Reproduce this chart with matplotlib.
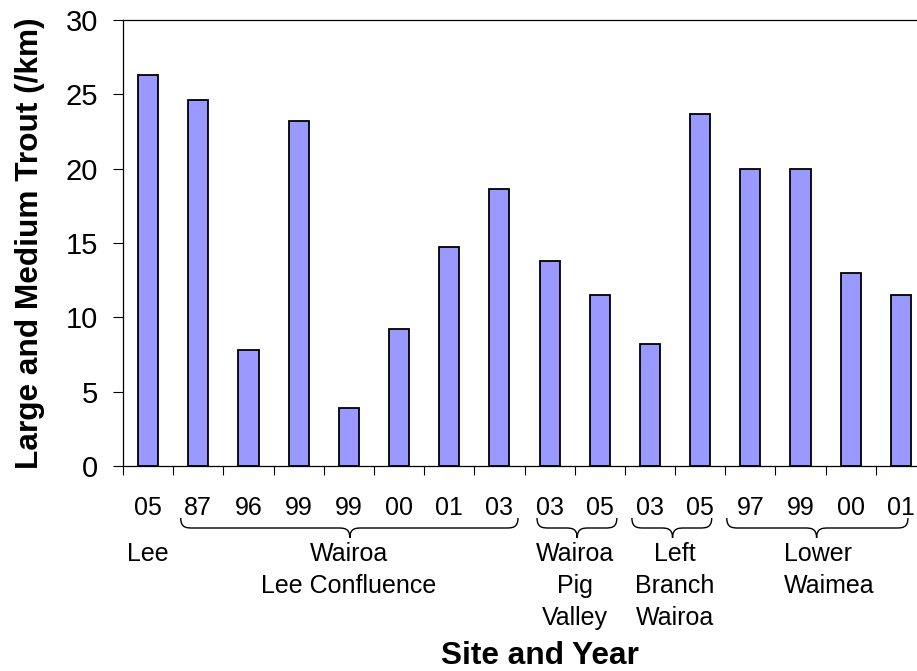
import numpy as np
import matplotlib
matplotlib.use('Agg')
import matplotlib.pyplot as plt
from matplotlib.path import Path
from matplotlib.patches import PathPatch
import matplotlib.transforms as mtransforms

plt.rcParams['font.family'] = ['Liberation Sans', 'DejaVu Sans']

years = ['05', '87', '96', '99', '99', '00', '01', '03',
         '03', '05', '03', '05', '97', '99', '00', '01']
trout = [26.3, 24.6, 7.8, 23.2, 3.9, 9.2, 14.7, 18.6,
         13.8, 11.5, 8.2, 23.7, 20.0, 20.0, 13.0, 11.5]

# site names (label text, x centre in category units)
sites = ['Lee', 'Wairoa\nLee Confluence', 'Wairoa\nPig\nValley',
         'Left\nBranch\nWairoa', 'Lower\nWaimea']
site_x = [0, 4.0, 8.5, 10.5, 13.58]
# braces under the year labels (left, tip, right)
braces = [(0.65, 4.02, 7.37), (7.75, 8.55, 9.34),
          (9.64, 10.45, 11.23), (11.53, 13.32, 15.14)]

fig = plt.figure(figsize=(9.17, 6.71), dpi=100)
ax = fig.add_axes([123 / 917, 1 - 466 / 671, 803 / 917, 446 / 671])

x = np.arange(len(trout))
ax.bar(x, trout, width=0.4, color='#9999ff', edgecolor='black', linewidth=1.3)

ax.set_xlim(-0.5, len(trout) - 0.5)
ax.set_ylim(0, 30)
ax.set_yticks(np.arange(0, 31, 5))
ax.tick_params(axis='y', labelsize=21, length=7.5, width=0.8, pad=10.5)
ax.set_xticks(x)
ax.set_xticklabels(years)
ax.set_xticks(np.arange(-0.5, len(trout), 1), minor=True)
ax.tick_params(axis='x', which='major', labelsize=18, length=0, pad=21.5)
ax.tick_params(axis='x', which='minor', length=6.5, width=0.8)

for s in ['left', 'bottom', 'top']:
    ax.spines[s].set_linewidth(0.9)
ax.spines['right'].set_visible(False)

# site labels and braces below the axis
trans = mtransforms.blended_transform_factory(ax.transData, ax.transAxes)
px = 1 / 446
for name, sx in zip(sites, site_x):
    ax.text(sx, -(542 - 466) * px, name, transform=trans, ha='center', va='top',
            fontsize=18, linespacing=1.41,
            multialignment='left' if name.startswith('Lower') else 'center')

y_top = -(518 - 466) * px
y_mid = -(528 - 466) * px
y_tip = -(538 - 466) * px
for l, m, r in braces:
    c = 0.12
    verts = [(l, y_top), (l, y_mid), (l + c, y_mid), (l + 2 * c, y_mid),
             (m - 2 * c, y_mid), (m - c, y_mid), (m, y_mid), (m, y_tip),
             (m, y_tip), (m, y_mid), (m + c, y_mid), (m + 2 * c, y_mid),
             (r - 2 * c, y_mid), (r - c, y_mid), (r, y_mid), (r, y_top)]
    codes = [Path.MOVETO, Path.CURVE4, Path.CURVE4, Path.CURVE4,
             Path.LINETO, Path.CURVE4, Path.CURVE4, Path.CURVE4,
             Path.MOVETO, Path.CURVE4, Path.CURVE4, Path.CURVE4,
             Path.LINETO, Path.CURVE4, Path.CURVE4, Path.CURVE4]
    ax.add_patch(PathPatch(Path(verts, codes), transform=trans, fill=False,
                           lw=1.0, edgecolor='black', clip_on=False))

ax.set_ylabel('Large and Medium Trout (/km)', fontsize=22.8, fontweight='bold', va='center')
ax.yaxis.set_label_coords((30 - 123) / 803, 0.5)
ax.set_xlabel('Site and Year', fontsize=22.8, fontweight='bold', va='center')
ax.xaxis.set_label_coords((540 - 123) / 803, -(656 - 466) * px)

fig.savefig('out.png', dpi=100, facecolor='white')
